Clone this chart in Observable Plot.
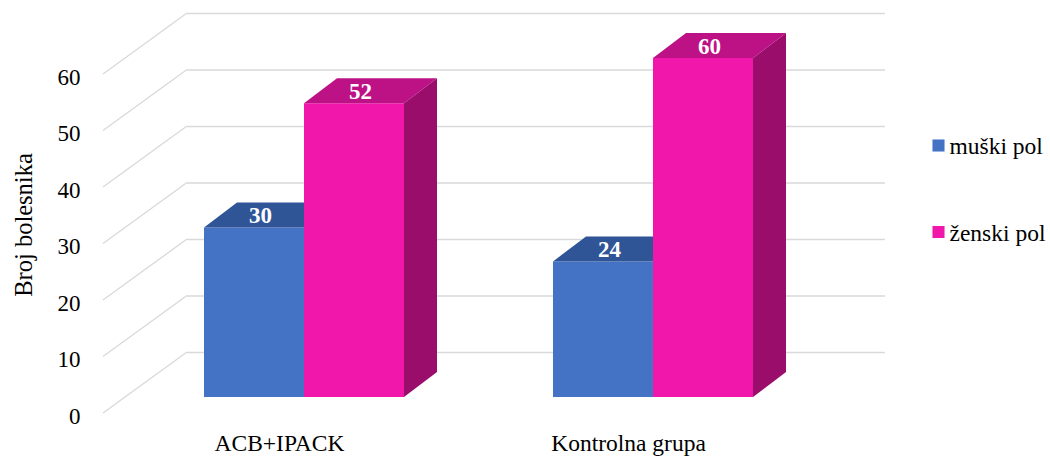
<!DOCTYPE html>
<html>
<head>
<meta charset="utf-8">
<script src="https://cdn.jsdelivr.net/npm/d3@7"></script>
<script src="https://cdn.jsdelivr.net/npm/@observablehq/plot@0.6"></script>
<style>
  html, body { margin: 0; padding: 0; background: #fff; }
  #chart { position: relative; width: 1050px; height: 459px; }
  #chart svg text { font-family: "Liberation Serif", "Times New Roman", serif; font-variant-numeric: normal; }
</style>
</head>
<body>
<div id="chart"></div>
<script>
// ---- data ----
const groups = ["ACB+IPACK", "Kontrolna grupa"];
const series = ["muški pol", "ženski pol"];
const maleValues = [30, 24];
const femaleValues = [52, 60];
const yTicks = [0, 10, 20, 30, 40, 50, 60];
const yLabel = "Broj bolesnika";

// ---- styles ----
const frontColors = ["#4472C4", "#F217AB"];
const topColors = ["#2F5597", "#BD1186"];
const sideColors = ["#2A4B85", "#9B0D6B"];
const gridColor = "#D9D9D9";
const FONT = "Liberation Serif";
const BAR_DX = 33, BAR_DY = -25;      // bar depth (px)
const BACK_DX = 62, BACK_DY = -45;    // bar plane -> back wall
const FRONT_DX = -22, FRONT_DY = 16;  // bar plane -> front edge

const data = groups.flatMap((g, i) => [
  {group: g, series: series[0], value: maleValues[i]},
  {group: g, series: series[1], value: femaleValues[i]}
]);

const bars3d = (index, scales, values, dims) => {
  const g = d3.create("svg:g");
  const bw = scales.x.bandwidth();
  const half = bw / 2;
  const poly = (pts, fill) => g.append("polygon")
    .attr("points", pts.map(p => p.join(",")).join(" "))
    .attr("fill", fill);
  for (const i of index) {
    const d = data[i];
    const s = series.indexOf(d.series);
    const x0 = scales.x(d.group) + s * half, x1 = x0 + half;
    const yT = scales.y(d.value), yB = scales.y(0);
    poly([[x0, yB], [x1, yB], [x1, yT], [x0, yT]], frontColors[s]);
    poly([[x0, yT], [x1, yT], [x1 + BAR_DX, yT + BAR_DY], [x0 + BAR_DX, yT + BAR_DY]], topColors[s]);
    poly([[x1, yT], [x1 + BAR_DX, yT + BAR_DY], [x1 + BAR_DX, yB + BAR_DY], [x1, yB]], sideColors[s]);
  }
  return g.node();
};

const diagonals = (index, scales, values, dims) => {
  const g = d3.create("svg:g").attr("stroke", gridColor).attr("stroke-width", 1.3);
  for (const i of index) {
    const y = scales.y(yTicks[i]);
    g.append("line")
      .attr("x1", dims.marginLeft + FRONT_DX).attr("y1", y + FRONT_DY)
      .attr("x2", dims.marginLeft + BACK_DX).attr("y2", y + BACK_DY);
  }
  return g.node();
};

const legendMarks = series.flatMap((name, k) => [
  Plot.dot([name], {frameAnchor: "top-right", symbol: "square", r: 6.8,
    fill: frontColors[k], dx: 115, dy: 87 + k * 86.5}),
  Plot.text([name], {frameAnchor: "top-right", text: d => d, textAnchor: "start", lineAnchor: "middle",
    dx: 126, dy: 88 + k * 86.5, fontSize: 23.5, fill: "#000", fontFamily: FONT})
]);

const chart = Plot.plot({
  width: 1050,
  height: 459,
  marginLeft: 125,
  marginRight: 227,
  marginTop: 58,
  marginBottom: 62,
  style: {fontFamily: FONT, background: "#fff", overflow: "visible"},
  x: {domain: groups, range: [129, 827], paddingInner: 0.427, paddingOuter: 0.2135},
  y: {domain: [0, 60]},
  marks: [
    Plot.ruleY(yTicks, {y: d => d, stroke: gridColor, strokeWidth: 1.3, dx: BACK_DX, dy: BACK_DY}),
    Plot.ruleY(yTicks, {y: d => d, render: diagonals}),
    Plot.barY(data, {x: "group", y1: 0, y2: "value", render: bars3d}),
    Plot.text(data.filter(d => d.series === series[0]), {x: "group", y: "value", text: d => String(d.value),
      dx: -44, dy: -12, fill: "#fff", fontWeight: "bold", fontSize: 23, fontFamily: FONT}),
    Plot.text(data.filter(d => d.series === series[1]), {x: "group", y: "value", text: d => String(d.value),
      dx: 56, dy: -12, fill: "#fff", fontWeight: "bold", fontSize: 23, fontFamily: FONT}),
    Plot.axisY(yTicks, {tickSize: 0, tickPadding: 45, dy: 19, fontSize: 23, label: null, fill: "#000", fontFamily: FONT, fontVariant: "normal"}),
    Plot.axisX({tickSize: 0, tickPadding: 37, dx: -25, fontSize: 23.5, label: null, fill: "#000", fontFamily: FONT}),
    Plot.text([yLabel], {frameAnchor: "left", textAnchor: "middle", rotate: -90, dx: -101, dy: -3, fontSize: 24.5, fill: "#000", fontFamily: FONT}),
    ...legendMarks
  ]
});
document.getElementById("chart").appendChild(chart);
</script>
</body>
</html>
